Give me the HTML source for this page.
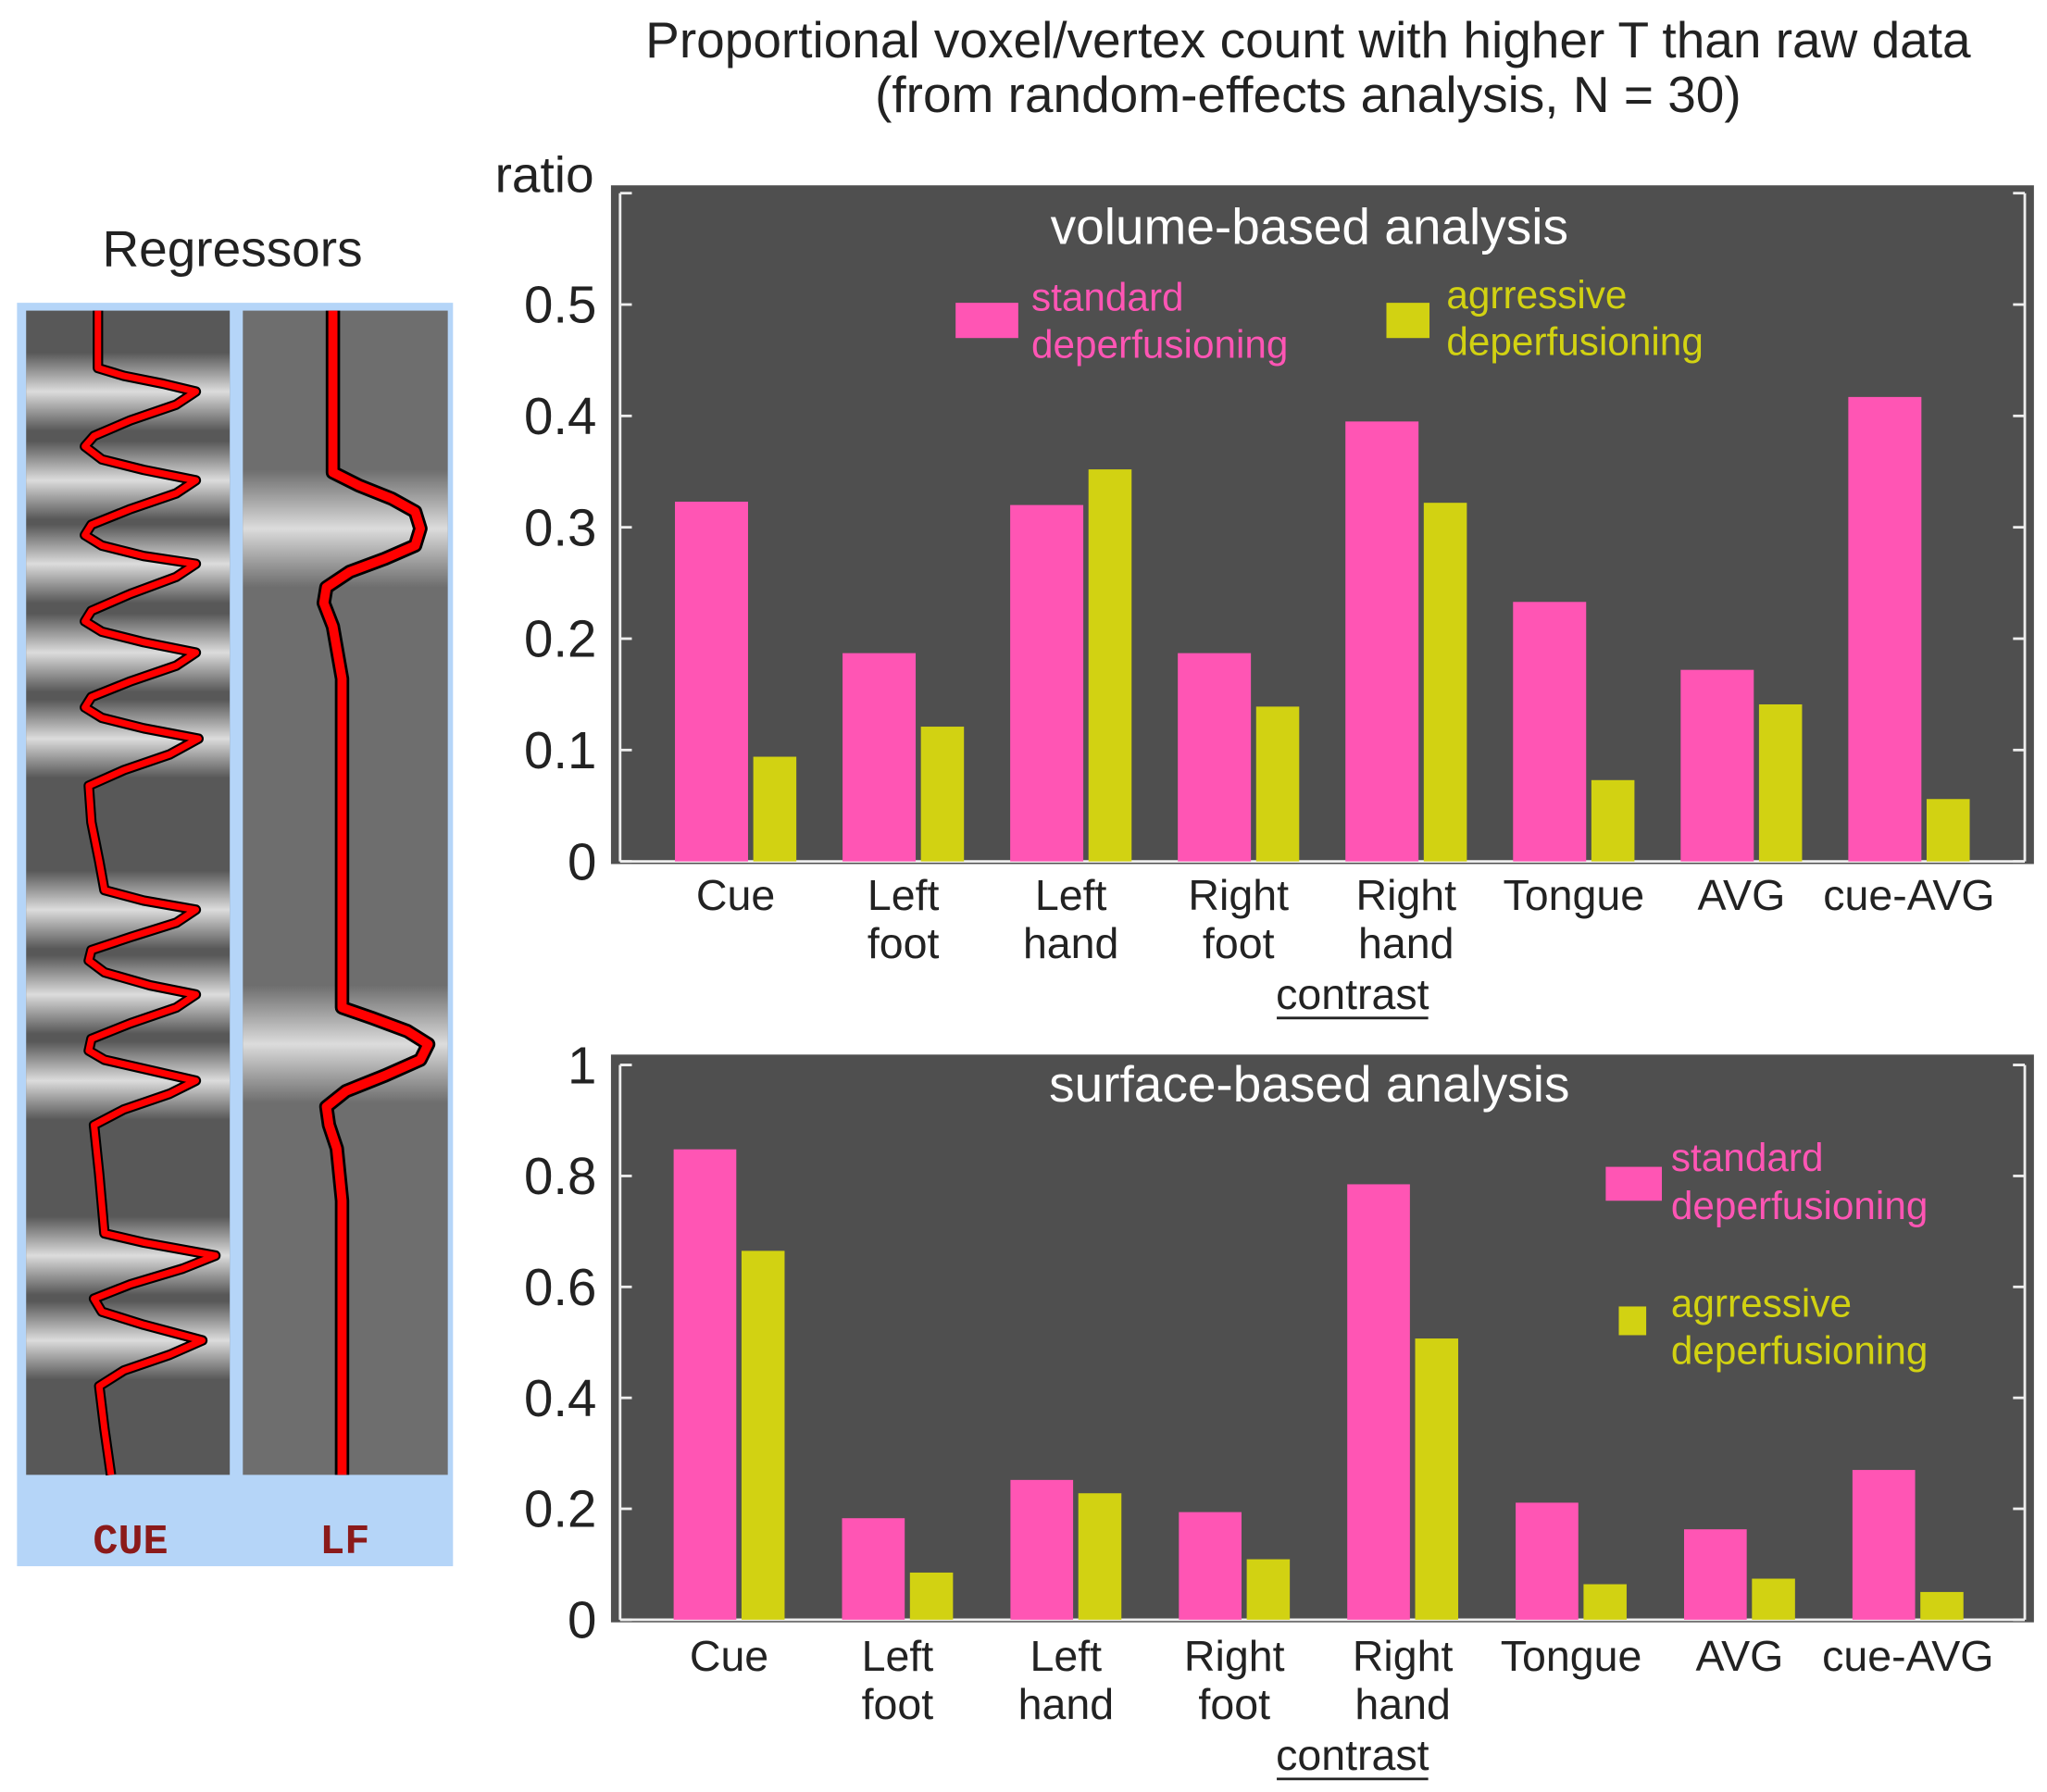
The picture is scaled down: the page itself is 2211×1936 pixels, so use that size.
<!DOCTYPE html>
<html><head><meta charset="utf-8">
<style>
html,body{margin:0;padding:0;background:#fff;}
svg{display:block;font-family:"Liberation Sans",sans-serif;}
</style></head>
<body>
<svg id="fig" width="2211" height="1936" viewBox="0 0 1568 1373" xmlns="http://www.w3.org/2000/svg">
<text x="1002" y="44" font-size="39" text-anchor="middle" fill="#222">Proportional voxel/vertex count with higher T than raw data</text>
<text x="1002" y="86" font-size="39" text-anchor="middle" fill="#222">(from random-effects analysis, N = 30)</text>
<text x="178" y="204" font-size="39" text-anchor="middle" fill="#222">Regressors</text>
<text x="455" y="147" font-size="39" text-anchor="end" fill="#222">ratio</text>

<g id="regs">
<rect x="13" y="232" width="334" height="968" fill="#b5d5f8"/>
<defs>
<linearGradient id="bandG" x1="0" y1="0" x2="0" y2="1">
<stop offset="0" stop-color="#d8d8d8" stop-opacity="0"/>
<stop offset="0.5" stop-color="#dcdcdc" stop-opacity="1"/>
<stop offset="1" stop-color="#d8d8d8" stop-opacity="0"/>
</linearGradient>
</defs>
<rect x="20" y="238" width="156" height="892" fill="#585858"/>
<rect x="186" y="238" width="157" height="892" fill="#6e6e6e"/>
<g id="cueBands"></g><g id="lfBands"></g>
<polyline id="cueLineB" fill="none" stroke="#000" stroke-width="8" stroke-linejoin="round"/>
<polyline id="cueLine" fill="none" stroke="#f00" stroke-width="5" stroke-linejoin="round"/>
<polyline id="lfLineB" fill="none" stroke="#000" stroke-width="11" stroke-linejoin="round"/>
<polyline id="lfLine" fill="none" stroke="#f00" stroke-width="7" stroke-linejoin="round"/>
<text x="100" y="1190" font-size="32" font-weight="bold" font-family="Liberation Mono, monospace" text-anchor="middle" fill="#8b1a1a">CUE</text>
<text x="264" y="1190" font-size="32" font-weight="bold" font-family="Liberation Mono, monospace" text-anchor="middle" fill="#8b1a1a">LF</text>
</g>

<g id="top"></g>
<g id="bot"></g>
</svg>
<script>
const categories = ["Cue","Left foot","Left hand","Right foot","Right hand","Tongue","AVG","cue-AVG"];
const volStandard = [0.323,0.187,0.320,0.187,0.395,0.233,0.172,0.417];
const volAggressive = [0.094,0.121,0.352,0.139,0.322,0.073,0.141,0.056];
const surfStandard = [0.848,0.183,0.252,0.194,0.785,0.211,0.163,0.270];
const surfAggressive = [0.665,0.085,0.228,0.109,0.507,0.064,0.074,0.050];
const volTicks = ["0","0.1","0.2","0.3","0.4","0.5"];
const surfTicks = ["0","0.2","0.4","0.6","0.8","1"];
const cueCurve = [[75,238],[75,282],[95,288],[125,294],[150,300],[135,310],[100,322],[72,334],[65,342],[78,352],[110,360],[150,368],[135,378],[100,390],[70,402],[65,410],[78,418],[110,426],[150,432],[135,442],[100,455],[70,468],[65,476],[78,484],[110,492],[150,500],[135,510],[100,522],[70,534],[65,542],[78,550],[110,558],[152,566],[130,578],[95,590],[68,602],[70,630],[76,660],[80,682],[110,690],[150,697],[135,707],[100,718],[70,728],[68,736],[80,745],[115,755],[150,762],[135,772],[100,784],[70,796],[68,805],[80,812],[115,820],[150,828],[130,838],[95,850],[72,862],[76,900],[80,945],[110,952],[165,962],[140,972],[100,984],[72,995],[78,1005],[110,1015],[155,1027],[130,1038],[95,1050],[76,1062],[80,1095],[85,1130]];
const lfCurve = [[255,238],[255,362],[275,372],[300,382],[318,392],[322,405],[318,418],[295,428],[268,438],[250,450],[248,462],[255,480],[262,520],[262,600],[262,700],[262,772],[285,780],[312,790],[328,800],[322,812],[295,824],[265,836],[250,848],[252,862],[258,880],[262,920],[262,1000],[262,1130]];
const cueBands = [300,368,432,500,566,697,762,828,962,1027];
const lfBands = [405,800];
const NS="http://www.w3.org/2000/svg";
function mk(tag,attrs,parent){const e=document.createElementNS(NS,tag);for(const k in attrs)e.setAttribute(k,attrs[k]);parent.appendChild(e);return e;}

const cb=document.getElementById('cueBands');
cueBands.forEach(y=>{const r=mk('rect',{x:20,y:y-30,width:156,height:60,fill:'url(#bandG)'},cb);

});
const lb=document.getElementById('lfBands');
lfBands.forEach(y=>{const r=mk('rect',{x:186,y:y-45,width:157,height:90,fill:'url(#bandG)'},lb);

});
const cp=cueCurve.map(p=>p.join(',')).join(' ');
document.getElementById('cueLine').setAttribute('points',cp);
document.getElementById('cueLineB').setAttribute('points',cp);
const lp=lfCurve.map(p=>p.join(',')).join(' ');
document.getElementById('lfLine').setAttribute('points',lp);
document.getElementById('lfLineB').setAttribute('points',lp);

function chart(g,cfg){
  const {bgTop,bgBot,y0,yMaxPx,vmax,tickStep,ticks,std,agg,title,titleY,pinkW,yelW,firstX,step,labY,prefix}=cfg;
  const ys=v=>y0-(v/vmax)*(y0-yMaxPx);
  const bg=mk('rect',{x:468,y:bgTop,width:1090,height:bgBot-bgTop,fill:'#4f4f4f'},g);
  
  
  mk('line',{x1:475,y1:yMaxPx,x2:475,y2:y0,stroke:'#eee','stroke-width':2},g);
  mk('line',{x1:1551,y1:yMaxPx,x2:1551,y2:y0,stroke:'#eee','stroke-width':2},g);
  mk('line',{x1:475,y1:y0,x2:1551,y2:y0,stroke:'#eee','stroke-width':2},g);
  mk('line',{x1:475,y1:yMaxPx,x2:484,y2:yMaxPx,stroke:'#eee','stroke-width':2},g);
  mk('line',{x1:1542,y1:yMaxPx,x2:1551,y2:yMaxPx,stroke:'#eee','stroke-width':2},g);
  ticks.forEach((t,i)=>{const y=ys(i*tickStep);
    mk('line',{x1:475,y1:y,x2:484,y2:y,stroke:'#eee','stroke-width':2},g);
    mk('line',{x1:1542,y1:y,x2:1551,y2:y,stroke:'#eee','stroke-width':2},g);
    const tx=mk('text',{x:457,y:y+14,'font-size':40,'text-anchor':'end',fill:'#222'},g);tx.textContent=t;
    
    });
  const tt=mk('text',{x:1003,y:titleY,'font-size':39,'text-anchor':'middle',fill:'#fff'},g);tt.textContent=title;
  
  
  categories.forEach((c,i)=>{
    const x=firstX+i*step;
    const p=mk('rect',{x:x,y:ys(std[i]),width:pinkW,height:y0-ys(std[i]),fill:'#ff55b4'},g);
    
    
    const a=mk('rect',{x:x+pinkW+4,y:ys(agg[i]),width:yelW,height:y0-ys(agg[i]),fill:'#d2d212'},g);
    
    
    const cx=x+(pinkW+4+yelW)/2;
    const parts=(c==='cue-AVG')?[c]:c.split(' ');
    parts.forEach((w,j)=>{const t=mk('text',{x:cx,y:labY+j*37,'font-size':33,'text-anchor':'middle',fill:'#222'},g);t.textContent=w;
      
      });
  });
  const ct=mk('text',{x:1036,y:labY+76,'font-size':33,'text-anchor':'middle',fill:'#222'},g);ct.textContent='contrast';
  
  
  mk('line',{x1:978,y1:labY+83,x2:1094,y2:labY+83,stroke:'#222','stroke-width':2},g);
}
chart(document.getElementById('top'),{bgTop:142,bgBot:662,y0:660,yMaxPx:148,vmax:0.6,tickStep:0.1,ticks:volTicks,std:volStandard,agg:volAggressive,title:'volume-based analysis',titleY:187,pinkW:56,yelW:33,firstX:517,step:128.4,labY:697,prefix:'volume'});
chart(document.getElementById('bot'),{bgTop:808,bgBot:1243,y0:1241,yMaxPx:816,vmax:1.0,tickStep:0.2,ticks:surfTicks,std:surfStandard,agg:surfAggressive,title:'surface-based analysis',titleY:844,pinkW:48,yelW:33,firstX:516,step:129,labY:1280,prefix:'surface'});

function legend(g,sx,sy,sw,sh,tx,ty1,ty2,col,l1,l2,name){
  const r=mk('rect',{x:sx,y:sy,width:sw,height:sh,fill:col},g);
  
  
  const a=mk('text',{x:tx,y:ty1,'font-size':30,fill:col},g);a.textContent=l1;
  
  
  const b=mk('text',{x:tx,y:ty2,'font-size':30,fill:col},g);b.textContent=l2;
  
  
}
const T=document.getElementById('top'),B=document.getElementById('bot');
legend(T,732,232,48,27,790,238,274,'#ff55b4','standard','deperfusioning','volume-legend-standard');
legend(T,1062,232,33,27,1108,236,272,'#d2d212','agrressive','deperfusioning','volume-legend-aggressive');
legend(B,1230,894,43,26,1280,897,934,'#ff55b4','standard','deperfusioning','surface-legend-standard');
legend(B,1240,1001,21,22,1280,1009,1045,'#d2d212','agrressive','deperfusioning','surface-legend-aggressive');
</script>
</body></html>
